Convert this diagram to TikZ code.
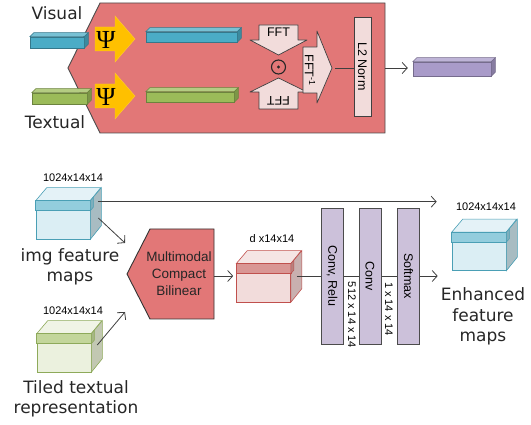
\documentclass[tikz,border=0pt]{standalone}
\usepackage{fontspec}
\newfontfamily\dejavu{DejaVu Sans}
\newfontfamily\arial{Liberation Sans}
\newfontfamily\greekserif{Liberation Serif}
\usetikzlibrary{arrows.meta,calc}

\definecolor{mcbred}{HTML}{E27777}
\definecolor{psiyellow}{HTML}{FFC000}
\definecolor{palepink}{HTML}{F2DCDB}
\definecolor{convlilac}{HTML}{CCC1DA}
\definecolor{lineg}{HTML}{3F3F3F}
\definecolor{vcyan}{HTML}{4BACC6}
\definecolor{tgreen}{HTML}{9BBB59}
\definecolor{opurple}{HTML}{A99BC9}
% cube colours
\definecolor{imgfront}{HTML}{DBEEF4}
\definecolor{imgband}{HTML}{93CDDD}
\definecolor{imgside}{HTML}{A8BCC2}
\definecolor{imgedge}{HTML}{4A9FB5}
\definecolor{txtfront}{HTML}{EBF1DE}
\definecolor{txtband}{HTML}{C3D69B}
\definecolor{txtside}{HTML}{C2C8B2}
\definecolor{txtedge}{HTML}{8EAA5A}
\definecolor{attband}{HTML}{D99694}
\definecolor{attside}{HTML}{C9B0AF}
\definecolor{attedge}{HTML}{C0504D}

\tikzset{
  big label/.style={font=\dejavu\fontsize{17}{20.5}\selectfont, align=center, text=black!85},
  dim label/.style={font=\arial\fontsize{11}{12}\selectfont, text=black},
  fft text/.style={font=\arial\fontsize{12.5}{14}\selectfont, inner sep=0},
  box text/.style={font=\arial\fontsize{12.5}{14}\selectfont},
  arr/.style={draw=lineg, line width=0.8pt, -{Straight Barb[length=5pt,width=11pt]}},
  plain line/.style={draw=lineg, line width=0.8pt},
  block/.style={fill=palepink, draw=black!75, line width=0.7pt, line join=round},
  psi arrow/.style={fill=psiyellow, draw=psiyellow!80!white, line width=0.4pt},
  cube face/.style={rectangle, minimum width=54, minimum height=38, inner sep=0, line width=0.6pt},
  vec bar/.style={rectangle, inner sep=0, line width=0.5pt},
  conv box/.style={rectangle, fill=convlilac, draw=black!70, line width=0.8pt,
    rotate=-90, minimum width=136, minimum height=22, inner sep=0, box text},
}

% name, position, front, band, side, edge
\newcommand{\featcube}[6]{%
  \node[cube face, fill=#3, draw=#6] (#1) at (#2) {};
  \filldraw[draw=#6, fill=#3!75!white, line width=0.6pt] (#1.north west) -- ++(11,-13)
    -- ++(54,0) -- (#1.north east) -- cycle;
  \filldraw[draw=#6, fill=#5, line width=0.6pt] (#1.north east) -- ++(11,-13)
    -- ++(0,38) -- (#1.south east) -- cycle;
  \filldraw[draw=#6, fill=#4, line width=0.6pt] (#1.north west) rectangle ($(#1.north east)+(0,10)$);
  \filldraw[draw=#6, fill=#4!85!black, line width=0.5pt] (#1.north east) -- ++(3,-3.5)
    -- ++(0,10) -- ++(-3,3.5) -- cycle;
}

% name, position, width, height, colour
\newcommand{\vecbar}[5]{%
  \node[vec bar, minimum width=#3, minimum height=#4, fill=#5, draw=#5!70!black] (#1) at (#2) {};
  \filldraw[fill=#5!75!white, draw=#5!70!black, line width=0.5pt] (#1.north west) -- ++(4,-4)
    -- ($(#1.north east)+(4,-4)$) -- (#1.north east) -- cycle;
  \filldraw[fill=#5!80!black, draw=#5!70!black, line width=0.5pt] (#1.north east) -- ++(4,-4)
    -- ($(#1.south east)+(4,-4)$) -- (#1.south east) -- cycle;
}

\begin{document}
\begin{tikzpicture}[x=1pt, y=-1pt]
\useasboundingbox (0,0) rectangle (531,425);

% --- compact bilinear pooling, top panel
\filldraw[fill=mcbred, draw=black!70, line width=0.9pt]
  (100,3) -- (385,3) -- (385,133) -- (100,133) -- (68,68) -- cycle;
\coordinate (poolout) at (385,68);

\node[big label] (vislabel) at (57,13) {Visual};
\node[big label] (txtlabel) at (55,122) {Textual};

\vecbar{visin}{57,42.5}{54}{11}{vcyan}
\vecbar{txtin}{59.5,98.5}{55}{11}{tgreen}
\vecbar{vismid}{191.5,37}{91}{10}{vcyan}
\vecbar{txtmid}{190,97}{88}{10}{tgreen}

\foreach \dy/\nm in {0/psivis, 57/psitxt}{
  \filldraw[psi arrow, shift={(0,\dy)}]
    (95,27) -- (115,27) -- (115,16) -- (135,39) -- (115,62) -- (115,51) -- (95,51) -- cycle;
  \node[font=\greekserif\fontsize{26}{26}\selectfont, inner sep=0] (\nm) at (106,40+\dy) {Ψ};
}

% FFT of both inputs
\filldraw[block] (259,25) -- (298,25) -- (298,40) -- (307,40) -- (278.5,55) -- (250,40) -- (259,40) -- cycle;
\node[fft text] (fftvis) at (278.5,32.5) {FFT};
\filldraw[block] (259,109) -- (298,109) -- (298,92) -- (307,92) -- (278.5,78) -- (250,92) -- (259,92) -- cycle;
\node[fft text, rotate=180] (ffttxt) at (278.5,100.5) {FFT};
\node[circle, draw=black!85, line width=1.1pt, minimum size=14, inner sep=0] (odot) at (278.5,67) {};
\fill[black!85] (odot) circle (1.7);

% inverse FFT
\filldraw[block] (303,47) -- (317,47) -- (317,31) -- (332,68) -- (317,103) -- (317,93) -- (303,93) -- cycle;
\node[fft text, rotate=-90] (fftinv) at (310,70) {FFT\textsuperscript{-1}};
\coordinate (invtip) at (335,68);

\node[rectangle, fill=palepink, draw=black!75, line width=0.7pt, rotate=-90,
  minimum width=99, minimum height=17, inner sep=0, box text] (l2) at (362.5,66.5) {L2 Norm};
\draw[plain line] (invtip) -- (invtip -| l2.south);

\vecbar{outvec}{452,69}{78}{14}{opurple}
\draw[arr, shorten >=5pt] (poolout) -- (poolout -| outvec.west);

% --- attention with MCB, bottom panel
\featcube{img}{63,220}{imgfront}{imgband}{imgside}{imgedge}
\node[dim label] (imgdim) at (73,178) {1024x14x14};
\node[big label] (imglabel) at (70,267) {img feature\\maps};

\featcube{tiled}{64,353}{txtfront}{txtband}{txtside}{txtedge}
\node[dim label] (tileddim) at (73,311) {1024x14x14};
\node[big label] (tiledlabel) at (76,399) {Tiled textual\\representation};

\filldraw[fill=mcbred, draw=black!80, line width=0.9pt]
  (127,274) -- (150,229) -- (214,229) -- (214,319) -- (150,319) -- cycle;
\node[font=\arial\fontsize{13.5}{17}\selectfont, align=center, text=black!85] (mcb) at (179,274)
  {Multimodal\\Compact\\Bilinear};
\coordinate (mcbin1) at (125,243);
\coordinate (mcbin2) at (125,312);
\coordinate (mcbout) at (214,276);

\draw[arr] ($(img.east)+(8,-2)$) -- (mcbin1);
\draw[arr] ($(tiled.east)+(6,-8)$) -- (mcbin2);

\featcube{att}{263.5,283}{palepink}{attband}{attside}{attedge}
\node[dim label] (attdim) at (272,239) {d x14x14};
\draw[arr, shorten >=3pt] (mcbout) -- (mcbout -| att.west);

\featcube{enh}{479,251.5}{imgfront}{imgband}{imgside}{imgedge}
\node[dim label] (enhdim) at (486,207) {1024x14x14};
\node[big label] (enhlabel) at (483,316.5) {Enhanced\\feature\\maps};

% skip path and attention path
\coordinate (skipstart) at ($(img.north east)+(8,1)$);
\coordinate (skipend) at ($(enh.north west)+(-15,0)$);
\draw[arr] (skipstart) -- (skipstart -| skipend);
\coordinate (attstart) at ($(att.east)+(6,-7)$);
\coordinate (attend) at ($(enh.west)+(-14,0)$);
\draw[arr] (attstart) -- (attstart -| attend);

\node[conv box] (convrelu) at (332,276) {Conv, Relu};
\node[conv box] (conv) at (370,276) {Conv};
\node[conv box] (softmax) at (408.5,276) {Softmax};
\node[dim label, rotate=-90] (dim512) at (352,315) {512 x 14 x 14};
\node[dim label, rotate=-90] (dim1) at (389,309) {1 x 14 x 14};
\end{tikzpicture}
\end{document}
